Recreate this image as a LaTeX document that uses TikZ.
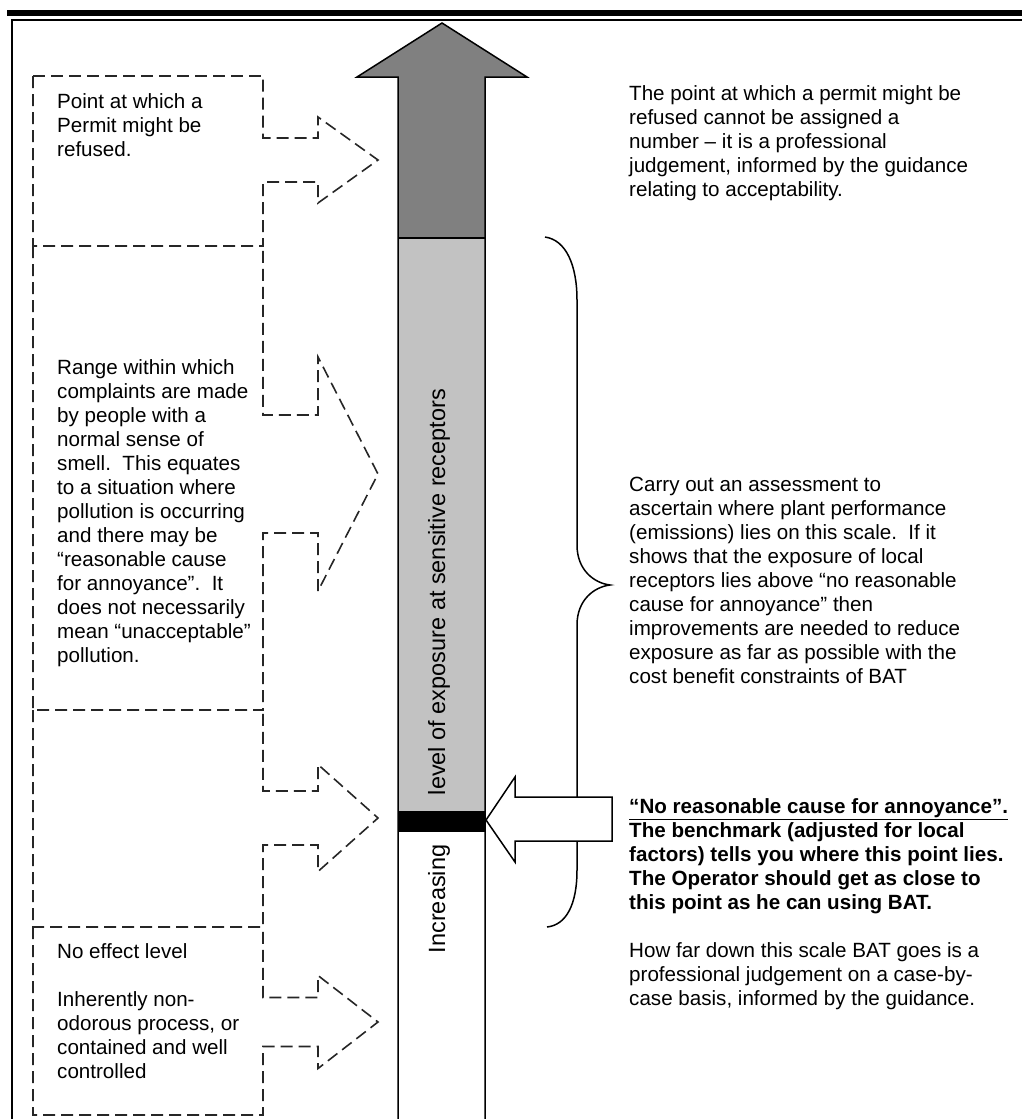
\documentclass[tikz,border=0pt]{standalone}
\usepackage{fontspec}
\setmainfont{Liberation Sans}
\definecolor{darkfill}{RGB}{128,128,128}
\definecolor{lightfill}{RGB}{194,194,194}
% T B C shaft-half head-half; the top edge is drawn by the box above
\newcommand\callbox[5]{%
  \draw[dbox] (33,#1) -- (33,#2) -- (263,#2) -- (263,#3+#4) -- (318,#3+#4)
    -- (318,#3+#5) -- (378,#3) -- (318,#3-#5) -- (318,#3-#4) -- (263,#3-#4)
    -- (263,#1);}
\begin{document}
\begin{tikzpicture}[x=1pt,y=-1pt,
  txt/.style={anchor=north west,inner sep=0pt,align=left,
    font=\fontsize{20.6}{24}\selectfont},
  vtxt/.style={rotate=90,anchor=base,inner sep=0pt,
    font=\fontsize{23.5}{28}\selectfont},
  dbox/.style={draw=black!85,line width=1.6pt,dash pattern=on 12pt off 6pt,
    line join=miter},
  outline/.style={draw=black,line width=1.5pt,line join=miter}]
\useasboundingbox (0,0) rectangle (1022,1119);

% frame
\fill[black] (7,10) rectangle (1022,16);
\draw[line width=2pt] (11,19.5) -- (1022,19.5);
\draw[line width=2.5pt] (12,19) -- (12,1125);

% left callout boxes
\draw[dbox] (33,76) -- (263,76);
\callbox{76}{246}{160}{22}{43}
\callbox{246}{710}{474}{59}{117}
\callbox{710}{927}{818}{27}{53.5}
\callbox{927}{1115}{1022}{24.5}{46.5}

% central scale arrow
\fill[darkfill] (398,238) -- (398,77) -- (357,77) -- (442,23) -- (527,77)
  -- (485,77) -- (485,238) -- cycle;
\fill[lightfill] (398,238) rectangle (485,811);
\fill[black] (398,811) rectangle (485,832);
\draw[outline] (398,1125) -- (398,77) -- (357,77) -- (442,23) -- (527,77)
  -- (485,77) -- (485,1125);
\draw[outline] (398,238) -- (485,238);

\node[vtxt] (lvl) at (445,592) {level of exposure at sensitive receptors};
\node[vtxt] (inc) at (445,899) {Increasing};

% brace
\draw[line width=1.5pt] (545,237) .. controls (566,240) and (577,265) .. (577,300)
  -- (577,545) .. controls (577,570) and (594,583) .. (610,585)
  .. controls (594,587) and (577,600) .. (577,625)
  -- (577,870) .. controls (577,905) and (566,925) .. (547,927);

% white arrow pointing at the benchmark
\draw[outline,fill=white] (486,820) -- (515,777) -- (515,797) -- (612,797)
  -- (612,841) -- (515,841) -- (515,862) -- cycle;

% left texts
\node[txt] (t1) at (57,93) {Point at which a\\Permit might be\\refused.};
\node[txt] (t2) at (57,359) {Range within which\\complaints are made\\by people with a\\normal sense of\\smell.\ \ This equates\\to a situation where\\pollution is occurring\\and there may be\\“reasonable cause\\for annoyance”.\ \ It\\does not necessarily\\mean “unacceptable”\\pollution.};
\node[txt] (t4) at (57,943) {No effect level\\[24pt]Inherently non-\\odorous process, or\\contained and well\\controlled};

% right texts
\node[txt] (r1) at (629,85) {The point at which a permit might be\\refused cannot be assigned a\\number – it is a professional\\judgement, informed by the guidance\\relating to acceptability.};
\node[txt] (r2) at (629,477) {Carry out an assessment to\\ascertain where plant performance\\(emissions) lies on this scale.\ \ If it\\shows that the exposure of local\\receptors lies above “no reasonable\\cause for annoyance” then\\improvements are needed to reduce\\exposure as far as possible with the\\cost benefit constraints of BAT};
\node[txt] (r3) at (629,798) {\textbf{\underline{“No reasonable cause for annoyance”.}}\\\textbf{The benchmark (adjusted for local}\\\textbf{factors) tells you where this point lies.}\\\textbf{The Operator should get as close to}\\\textbf{this point as he can using BAT.}\\[24pt]How far down this scale BAT goes is a\\professional judgement on a case-by-\\case basis, informed by the guidance.};
\end{tikzpicture}
\end{document}
